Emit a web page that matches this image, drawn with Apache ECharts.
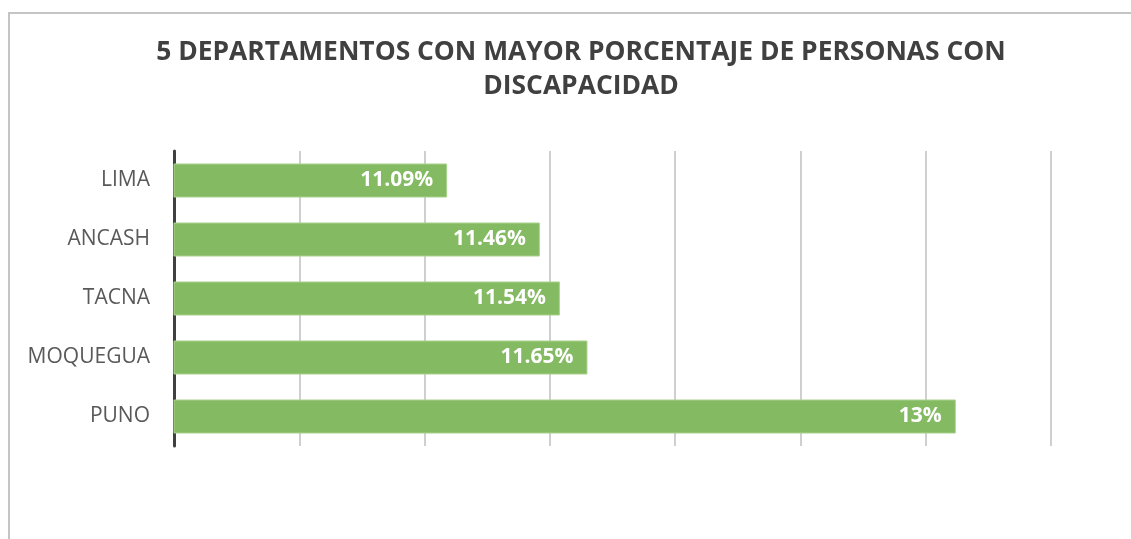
<!DOCTYPE html>
<html>
<head>
<meta charset="utf-8">
<script src="https://cdn.jsdelivr.net/npm/echarts@6/dist/echarts.min.js"></script>
<style>
  html, body { margin: 0; padding: 0; background: #fff; }
  #main { width: 1131px; height: 539px; }
</style>
</head>
<body>
<div id="main"></div>
<script>
// datos
const departamentos = ['PUNO', 'MOQUEGUA', 'TACNA', 'ANCASH', 'LIMA'];
const porcentajes = [13.12, 11.65, 11.54, 11.46, 11.09];
const etiquetas = ['13%', '11.65%', '11.54%', '11.46%', '11.09%'];

const chart = echarts.init(document.getElementById('main'));

const option = {
  backgroundColor: '#fff',
  animation: false,
  title: {
    text: '5 DEPARTAMENTOS CON MAYOR PORCENTAJE DE PERSONAS CON\nDISCAPACIDAD',
    left: 576,
    top: 30,
    textAlign: 'center',
    textStyle: {
      fontFamily: 'Open Sans',
      fontSize: 26.4,
      fontWeight: 'bold',
      color: '#404040',
      lineHeight: 34
    }
  },
  // marco del area del grafico
  graphic: [
    {
      type: 'rect',
      shape: { x: 9, y: 13, width: 1200, height: 600 },
      style: { fill: 'none', stroke: '#c4c4c4', lineWidth: 2 },
      silent: true
    }
  ],
  grid: {
    left: 174,
    right: 80,
    top: 151,
    bottom: 93
  },
  xAxis: {
    type: 'value',
    min: 10,
    max: 13.5,
    interval: 0.5,
    axisLabel: { show: false },
    axisLine: { show: false },
    axisTick: { show: false },
    splitLine: { show: true, lineStyle: { color: '#bfbfbf', width: 1.5 } }
  },
  yAxis: {
    type: 'category',
    data: departamentos,
    axisLine: { show: true, lineStyle: { color: '#404040', width: 3 } },
    axisTick: { show: false },
    axisLabel: {
      fontFamily: 'Open Sans',
      fontSize: 21,
      color: '#595959',
      margin: 24
    }
  },
  series: [
    {
      type: 'bar',
      data: porcentajes,
      barWidth: 34,
      itemStyle: {
        color: '#84ba62',
        borderColor: '#a9d18e',
        borderWidth: 1
      },
      label: {
        show: true,
        position: 'insideRight',
        distance: 14,
        formatter: p => etiquetas[p.dataIndex],
        fontFamily: 'Open Sans',
        fontSize: 21,
        fontWeight: 'bold',
        color: '#ffffff'
      }
    }
  ]
};

chart.setOption(option);
</script>
</body>
</html>
